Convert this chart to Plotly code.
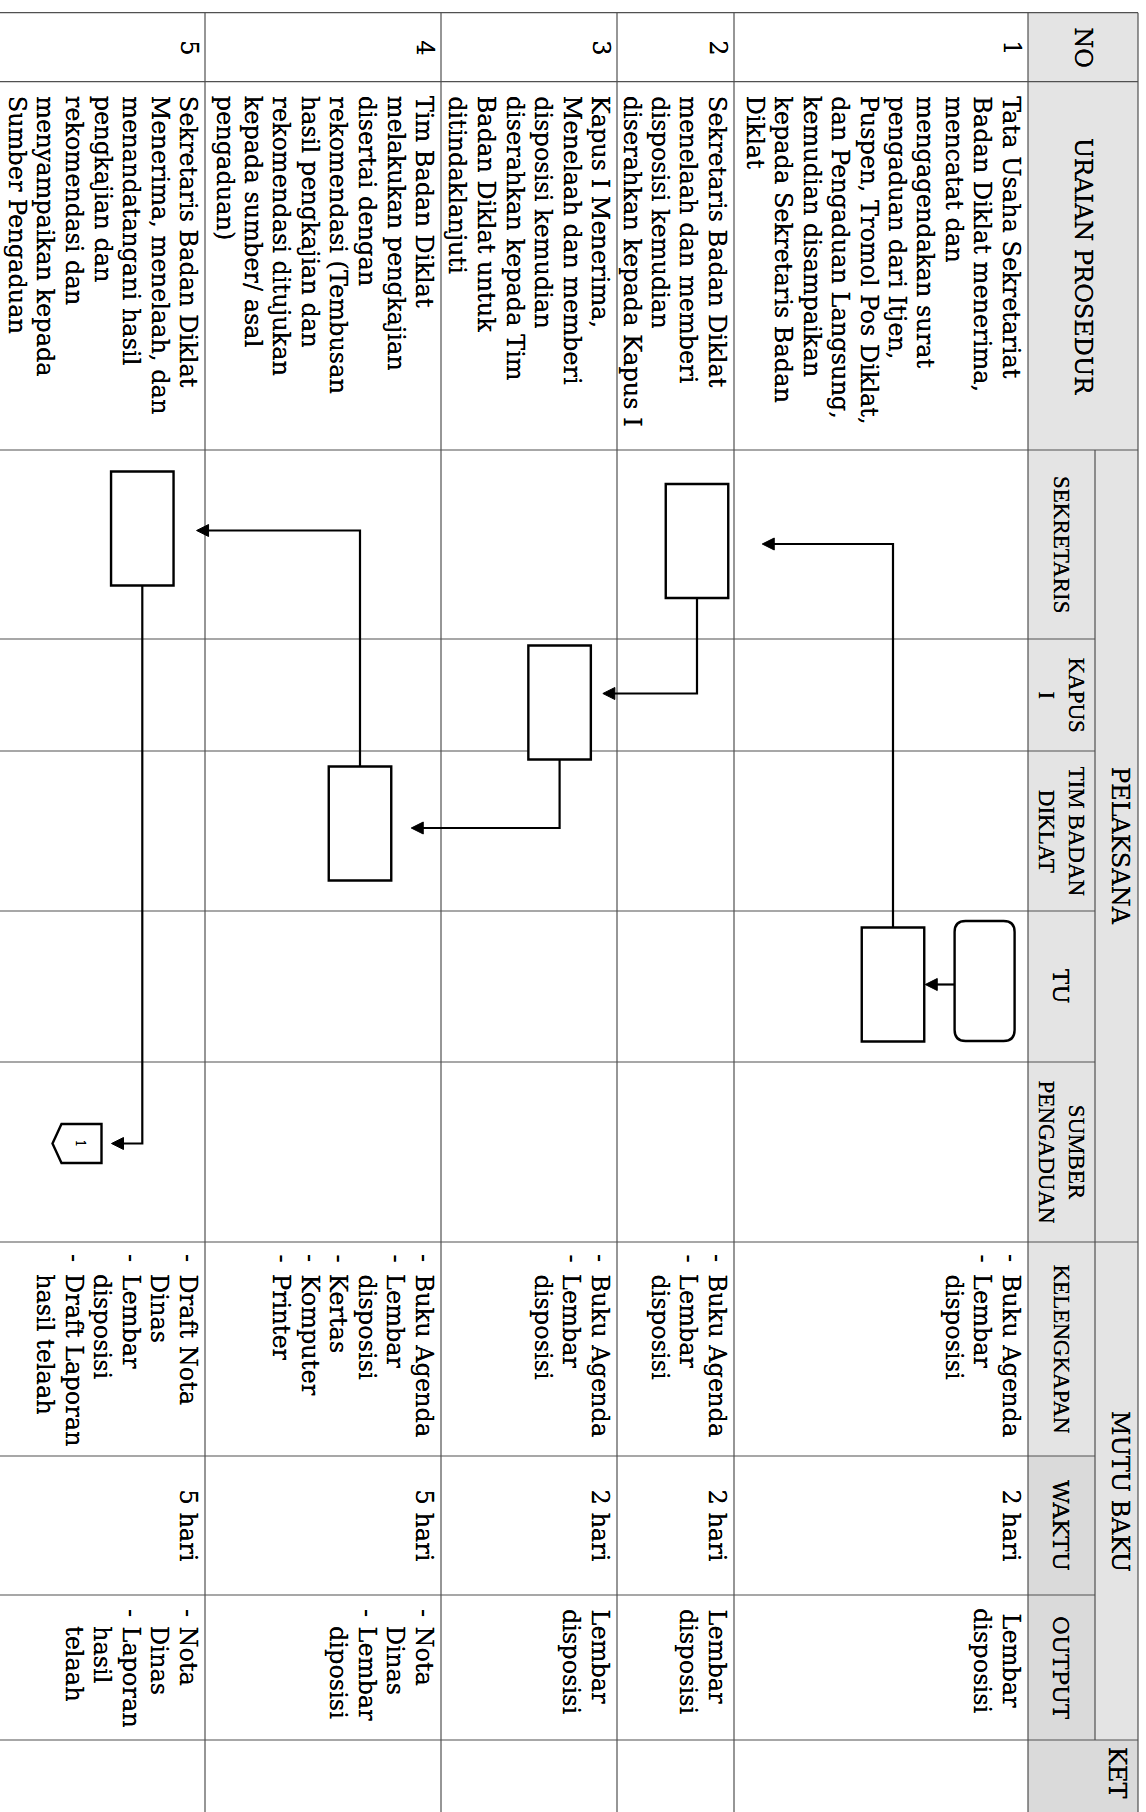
import plotly.graph_objects as go

# ---------------- table content ----------------
row_numbers = ['1', '2', '3', '4', '5']

uraian = [
    ['Tata Usaha Sekretariat', 'Badan Diklat menerima,', 'mencatat dan',
     'mengagendakan surat', 'pengaduan dari Itjen,', 'Puspen, Tromol Pos Diklat,',
     'dan Pengaduan Langsung,', 'kemudian disampaikan', 'kepada Sekretaris Badan',
     'Diklat'],
    ['Sekretaris Badan Diklat', 'menelaah dan memberi', 'disposisi kemudian',
     'diserahkan kepada Kapus I'],
    ['Kapus I Menerima,', 'Menelaah dan memberi', 'disposisi kemudian',
     'diserahkan kepada Tim', 'Badan Diklat untuk', 'ditindaklanjuti'],
    ['Tim Badan Diklat', 'melakukan pengkajian', 'disertai dengan',
     'rekomendasi (Tembusan', 'hasil pengkajian dan', 'rekomendasi ditujukan',
     'kepada sumber/ asal', 'pengaduan)'],
    ['Sekretaris Badan Diklat', 'Menerima, menelaah, dan', 'menandatangani hasil',
     'pengkajian dan', 'rekomendasi dan', 'menyampaikan kepada', 'Sumber Pengaduan'],
]

lanes = ['SEKRETARIS', 'KAPUS<br>I', 'TIM BADAN<br>DIKLAT', 'TU', 'SUMBER<br>PENGADUAN']
mutu_cols = ['KELENGKAPAN', 'WAKTU', 'OUTPUT']

kelengkapan = [
    ['- Buku Agenda', '- Lembar', 'disposisi'],
    ['- Buku Agenda', '- Lembar', 'disposisi'],
    ['- Buku Agenda', '- Lembar', 'disposisi'],
    ['- Buku Agenda', '- Lembar', 'disposisi', '- Kertas', '- Komputer', '- Printer'],
    ['- Draft Nota', 'Dinas', '- Lembar', 'disposisi', '- Draft Laporan', 'hasil telaah'],
]
waktu = ['2 hari', '2 hari', '2 hari', '5 hari', '5 hari']
output = [
    ['Lembar', 'disposisi'],
    ['Lembar', 'disposisi'],
    ['Lembar', 'disposisi'],
    ['- Nota', 'Dinas', '- Lembar', 'diposisi'],
    ['- Nota', 'Dinas', '- Laporan', 'hasil', 'telaah'],
]

# flow steps: kind, lane index, row index; links between steps
step_kind = ['start', 'process', 'process', 'process', 'process', 'process', 'connector']
step_lane = [3, 3, 0, 1, 2, 0, 4]
step_row = [0, 0, 1, 2, 3, 4, 4]
connector_label = '1'
links = [(0, 1), (1, 2), (2, 3), (3, 4), (4, 5), (5, 6)]

# ---------------- geometry / style ----------------
W, H = 1146, 1812
TOP, NO_BOTTOM = 12.7, 81.7
HEAD_X0, HEAD_MID, HEAD_X1 = 1028, 1095, 1138
ROW_RIGHT = [1028, 734, 617, 441, 205]
LANE_EDGES = [450, 639, 751, 911, 1062, 1242]
MUTU_EDGES = [1242, 1456, 1595, 1740]
KET_Y0 = 1740
LINE_STEP = 28.5
FIRST = 17

BODY = 'DejaVu Serif'
TIMES = 'Liberation Serif'
FS = 24
INK = '#000000'
GRID = '#505050'
HEAD_BG = '#e4e4e4'
HEAD_BG2 = '#dadada'

# step placement: offset of centre from the row's right edge / lane centre
step_dx = [43.4, 135, 37, 57.4, 81, 62.7, 128]
step_dy = [-5.5, -2, -3.5, 7.5, -7.5, -16, -8.5]
step_size = {'start': (60, 120), 'process': (62.5, 114), 'connector': (49, 39)}
link_gap = [1, 34, 12, 20, 23, 10]
link_dy = [0, 3, -9, 4.5, 2, 0]

fig = go.Figure()
fig.add_trace(go.Scatter(x=[0], y=[0], mode='markers', marker=dict(opacity=0),
                         hoverinfo='skip', showlegend=False))


def rect(x0, y0, x1, y1, fill):
    fig.add_shape(type='rect', x0=x0, y0=y0, x1=x1, y1=y1, fillcolor=fill,
                  line=dict(width=0), layer='below')


def hline(y, x0, x1, w=1.2, c=GRID):
    fig.add_shape(type='line', x0=x0, x1=x1, y0=y, y1=y, line=dict(color=c, width=w))


def vline(x, y0, y1, w=1.2, c=GRID):
    fig.add_shape(type='line', x0=x, x1=x, y0=y0, y1=y1, line=dict(color=c, width=w))


def txt(x, y, s, size=FS, family=BODY, xanchor='center', yanchor='top', align='left'):
    fig.add_annotation(x=x, y=y, text=s, textangle=90, showarrow=False,
                       xanchor=xanchor, yanchor=yanchor, align=align, borderpad=0,
                       font=dict(family=family, size=size, color=INK,
                                 shadow='0 0 0.6px #000'))


# header fills
rect(HEAD_X0, TOP, HEAD_X1, LANE_EDGES[0], HEAD_BG)
rect(HEAD_X0, LANE_EDGES[0], HEAD_X1, MUTU_EDGES[0], HEAD_BG)
rect(HEAD_X0, MUTU_EDGES[0], HEAD_X1, KET_Y0, HEAD_BG)
rect(HEAD_X0, MUTU_EDGES[1], HEAD_MID, KET_Y0, HEAD_BG2)
rect(HEAD_X0, KET_Y0, HEAD_X1, H + 10, HEAD_BG2)

# grid
for x in ROW_RIGHT[1:] + [HEAD_X0, HEAD_X1]:
    vline(x, TOP, H + 10)
vline(HEAD_MID, LANE_EDGES[0], KET_Y0)
for y in [TOP, NO_BOTTOM, LANE_EDGES[0], MUTU_EDGES[0], KET_Y0]:
    hline(y, -10, HEAD_X1)
for y in LANE_EDGES[1:-1] + MUTU_EDGES[1:-1]:
    hline(y, -10, HEAD_MID)

# header text
txt((HEAD_X0 + HEAD_X1) / 2, (TOP + NO_BOTTOM) / 2, 'NO', yanchor='middle')
txt((HEAD_X0 + HEAD_X1) / 2, (NO_BOTTOM + LANE_EDGES[0]) / 2, 'URAIAN PROSEDUR',
    yanchor='middle')
txt(1120, (LANE_EDGES[0] + LANE_EDGES[-1]) / 2, 'PELAKSANA', yanchor='middle')
txt(1120, (MUTU_EDGES[0] + MUTU_EDGES[-1]) / 2, 'MUTU BAKU', yanchor='middle')
txt(1117, (KET_Y0 + H) / 2 - 4, 'KET', yanchor='middle')
for i, name in enumerate(lanes):
    txt((HEAD_X0 + HEAD_MID) / 2, (LANE_EDGES[i] + LANE_EDGES[i + 1]) / 2, name,
        size=23, family=TIMES if name != 'TU' else BODY, yanchor='middle',
        align='center')
for i, name in enumerate(mutu_cols):
    txt((HEAD_X0 + HEAD_MID) / 2, (MUTU_EDGES[i] + MUTU_EDGES[i + 1]) / 2, name,
        size=23, family=TIMES if i == 0 else BODY, yanchor='middle')


def cell_lines(r, lines, y_dash, y_text, center=None):
    has_dash = any(s.startswith('- ') for s in lines)
    for k, s in enumerate(lines):
        x = ROW_RIGHT[r] - FIRST - k * LINE_STEP
        if center is not None:
            txt(x, center, s, yanchor='middle')
        elif s.startswith('- '):
            txt(x, y_dash, '-')
            txt(x, y_text, s[2:])
        else:
            txt(x, y_text if has_dash else y_dash, s)


# body rows
for r in range(5):
    x_first = ROW_RIGHT[r] - FIRST
    txt(x_first + 1, (TOP + NO_BOTTOM) / 2, row_numbers[r], yanchor='middle')
    cell_lines(r, uraian[r], NO_BOTTOM + 13, NO_BOTTOM + 13)
    cell_lines(r, kelengkapan[r], MUTU_EDGES[0] + 11, MUTU_EDGES[0] + 31)
    txt(x_first, (MUTU_EDGES[1] + MUTU_EDGES[2]) / 2, waktu[r], yanchor='middle')
    cell_lines(r, output[r], MUTU_EDGES[2] + 13, MUTU_EDGES[2] + 30,
               center=(MUTU_EDGES[2] + MUTU_EDGES[3]) / 2 - 7 if r == 0 else None)

# flow shapes
boxes = []
for k, kind in enumerate(step_kind):
    cx = ROW_RIGHT[step_row[k]] - step_dx[k]
    cy = (LANE_EDGES[step_lane[k]] + LANE_EDGES[step_lane[k] + 1]) / 2 + step_dy[k]
    w, h = step_size[kind]
    x0, x1, y0, y1 = cx - w / 2, cx + w / 2, cy - h / 2, cy + h / 2
    boxes.append((x0, y0, x1, y1, cx, cy))
    line = dict(color='black', width=2.4)
    if kind == 'process':
        fig.add_shape(type='rect', x0=x0, y0=y0, x1=x1, y1=y1, line=line,
                      fillcolor='white')
    elif kind == 'start':
        rr = 11
        path = (f'M{x0 + rr},{y0} L{x1 - rr},{y0} Q{x1},{y0} {x1},{y0 + rr} '
                f'L{x1},{y1 - rr} Q{x1},{y1} {x1 - rr},{y1} L{x0 + rr},{y1} '
                f'Q{x0},{y1} {x0},{y1 - rr} L{x0},{y0 + rr} Q{x0},{y0} {x0 + rr},{y0} Z')
        fig.add_shape(type='path', path=path, line=line, fillcolor='white')
    else:
        path = (f'M{x1},{y0} L{x0 + 9},{y0} L{x0},{cy} L{x0 + 9},{y1} L{x1},{y1} Z')
        fig.add_shape(type='path', path=path, line=line, fillcolor='white')
        txt(cx + 3, cy, connector_label, size=12, yanchor='middle')

# connecting arrows
for n, (a, b) in enumerate(links):
    ax0, ay0, ax1, ay1, acx, acy = boxes[a]
    bx0, by0, bx1, by1, bcx, bcy = boxes[b]
    ty = bcy + link_dy[n]
    tip = bx1 + link_gap[n]
    if step_lane[a] == step_lane[b]:
        pts = [(ax0, ty), (tip + 11, ty)]
    else:
        sy = ay0 if bcy < acy else ay1
        pts = [(acx, sy), (acx, ty), (tip + 11, ty)]
    path = 'M' + ' L'.join(f'{x},{y}' for x, y in pts)
    fig.add_shape(type='path', path=path, line=dict(color='black', width=2.2))
    fig.add_shape(type='path', path=f'M{tip},{ty} L{tip + 12},{ty - 6} L{tip + 12},{ty + 6} Z',
                  line=dict(color='black', width=1), fillcolor='black')

fig.update_layout(
    width=W, height=H,
    margin=dict(l=0, r=0, t=0, b=0),
    paper_bgcolor='white', plot_bgcolor='white',
    showlegend=False,
    xaxis=dict(range=[0, W], visible=False, fixedrange=True),
    yaxis=dict(range=[H, 0], visible=False, fixedrange=True),
)

fig.write_html('out.html', config={'displayModeBar': False},
               post_script="document.body.style.margin='0';")
